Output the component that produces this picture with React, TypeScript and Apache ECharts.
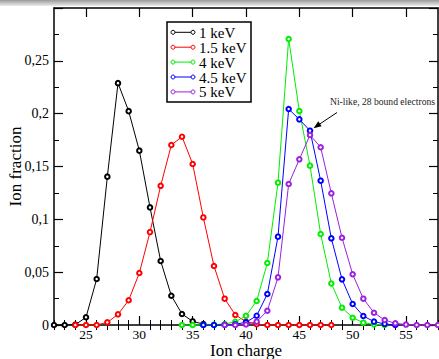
import React, { useEffect, useRef } from "react";
import * as echarts from "echarts";

const seriesNames = ["1 keV", "1.5 keV", "4 keV", "4.5 keV", "5 keV"];
const seriesColors = ["#000000", "#ff0000", "#00ee00", "#0000ff", "#9b20e0"];

const charges1 = [22, 23, 24, 25, 26, 27, 28, 29, 30, 31, 32, 33, 34, 35, 36];
const fraction1 = [0, 0, 0.0003, 0.0073, 0.0435, 0.1404, 0.2289, 0.2024, 0.165, 0.1113, 0.0606, 0.0277, 0.0104, 0.0035, 0.0008];

const charges15 = [24, 25, 26, 27, 28, 29, 30, 31, 32, 33, 34, 35, 36, 37, 38, 39, 40, 41, 42, 43, 44, 45, 46, 47, 48];
const fraction15 = [0, 0, 0, 0.0025, 0.0101, 0.0234, 0.0492, 0.0879, 0.1317, 0.1703, 0.1782, 0.1524, 0.1018, 0.0558, 0.0249, 0.0095, 0.0032, 0.0008, 0, 0, 0, 0, 0, 0, 0];

const charges4 = [34, 35, 36, 37, 38, 39, 40, 41, 42, 43, 44, 45, 46, 47, 48, 49, 50, 51, 52, 53];
const fraction4 = [0, 0, 0, 0.0003, 0.001, 0.003, 0.0087, 0.0227, 0.0587, 0.1347, 0.2707, 0.2025, 0.1508, 0.0861, 0.0393, 0.0164, 0.0069, 0.0022, 0.0006, 0];

const charges45 = [36, 37, 38, 39, 40, 41, 42, 43, 44, 45, 46, 47, 48, 49, 50, 51, 52, 53, 54];
const fraction45 = [0, 0, 0.0002, 0.0007, 0.0025, 0.0088, 0.0293, 0.0836, 0.2044, 0.1946, 0.1839, 0.1366, 0.082, 0.0432, 0.0199, 0.0085, 0.0032, 0.001, 0];

const charges5 = [38, 39, 40, 41, 42, 43, 44, 45, 46, 47, 48, 49, 50, 51, 52, 53, 54, 55, 56, 57, 58];
const fraction5 = [0, 0, 0.0005, 0.0032, 0.0135, 0.0451, 0.1334, 0.1568, 0.1798, 0.1682, 0.1246, 0.0826, 0.048, 0.0249, 0.0116, 0.0047, 0.0016, 0.0004, 0, 0, 0];

const allCharges = [charges1, charges15, charges4, charges45, charges5];
const allFractions = [fraction1, fraction15, fraction4, fraction45, fraction5];

const xMajorTicks = [25, 30, 35, 40, 45, 50, 55];
const xMinorTicks = [22, 23, 24, 26, 27, 28, 29, 31, 32, 33, 34, 36, 37, 38, 39, 41, 42, 43, 44, 46, 47, 48, 49, 51, 52, 53, 54, 56, 57, 58];

const annotationText = "Ni-like, 28 bound electrons";

const FONT = "Liberation Serif";

export default function App() {
  const ref = useRef<HTMLDivElement>(null);

  useEffect(() => {
    if (!ref.current) return;
    const chart = echarts.init(ref.current, null, { renderer: "svg" });

    const xBase = {
      type: "value" as const,
      min: 22,
      max: 58,
      splitLine: { show: false },
    };

    const yFmt = (v: number) => {
      if (v > 0.29) return "";
      return Number(v.toFixed(3)).toString().replace(".", ",");
    };

    const legendGraphics: any[] = [
      {
        type: "rect",
        shape: { x: 167, y: 22, width: 84, height: 80 },
        style: { fill: "#fff", stroke: "#000", lineWidth: 1.5 },
        z: 100,
      },
    ];
    seriesNames.forEach((name, i) => {
      const yy = 32.3 + i * 14.9;
      legendGraphics.push(
        {
          type: "line",
          shape: { x1: 173, y1: yy, x2: 193, y2: yy },
          style: { stroke: seriesColors[i], lineWidth: 1 },
          z: 101,
        },
        {
          type: "circle",
          shape: { cx: 173, cy: yy, r: 2 },
          style: { fill: "#fff", stroke: seriesColors[i], lineWidth: 1 },
          z: 102,
        },
        {
          type: "circle",
          shape: { cx: 193, cy: yy, r: 2 },
          style: { fill: "#fff", stroke: seriesColors[i], lineWidth: 1 },
          z: 102,
        },
        {
          type: "text",
          x: 199,
          y: yy + 0.5,
          style: {
            text: name,
            fill: "#000",
            font: `15px "${FONT}"`,
            textVerticalAlign: "middle",
            verticalAlign: "middle",
          },
          z: 102,
        }
      );
    });

    const option: any = {
      animation: false,
      backgroundColor: "#fff",
      grid: { left: 54, right: 1, top: 8, bottom: 34, containLabel: false, outerBoundsMode: "none" },
      xAxis: [
        {
          ...xBase,
          position: "bottom",
          name: "Ion charge",
          nameLocation: "middle",
          nameGap: 17,
          nameMoveOverlap: false,
          nameTextStyle: { fontFamily: FONT, fontSize: 17, lineHeight: 16, color: "#000" },
          axisLine: { show: true, onZero: false, lineStyle: { color: "#000", width: 1.5 } },
          axisTick: { show: true, inside: true, length: 9, customValues: xMajorTicks, lineStyle: { color: "#000", width: 1.2 } },
          axisLabel: { show: true, customValues: xMajorTicks, margin: 3, fontFamily: FONT, fontSize: 13.5, lineHeight: 12, color: "#000" },
        },
        {
          ...xBase,
          position: "bottom",
          axisLine: { show: false },
          axisTick: { show: true, inside: true, length: 5, customValues: xMinorTicks, lineStyle: { color: "#000", width: 1 } },
          axisLabel: { show: false },
        },
        {
          ...xBase,
          position: "top",
          axisLine: { show: true, onZero: false, lineStyle: { color: "#000", width: 1.5 } },
          axisTick: { show: true, inside: true, length: 9, customValues: xMajorTicks, lineStyle: { color: "#000", width: 1.2 } },
          axisLabel: { show: false },
        },
        {
          ...xBase,
          position: "top",
          axisLine: { show: false },
          axisTick: { show: true, inside: true, length: 5, customValues: xMinorTicks, lineStyle: { color: "#000", width: 1 } },
          axisLabel: { show: false },
        },
      ],
      yAxis: [
        {
          type: "value",
          position: "left",
          min: 0,
          max: 0.3,
          interval: 0.05,
          name: "Ion fraction",
          nameLocation: "middle",
          nameGap: 30,
          nameMoveOverlap: false,
          nameTextStyle: { fontFamily: FONT, fontSize: 17, color: "#000" },
          splitLine: { show: false },
          axisLine: { show: true, onZero: false, lineStyle: { color: "#000", width: 1.5 } },
          axisTick: { show: true, inside: true, length: 9, lineStyle: { color: "#000", width: 1.2 } },
          minorTick: { show: true, splitNumber: 2, length: 5, lineStyle: { color: "#000", width: 1 } },
          axisLabel: { margin: 5, fontFamily: FONT, fontSize: 14, color: "#000", formatter: yFmt },
        },
        {
          type: "value",
          position: "right",
          min: 0,
          max: 0.3,
          interval: 0.05,
          splitLine: { show: false },
          axisLine: { show: true, onZero: false, lineStyle: { color: "#000", width: 1.5 } },
          axisTick: { show: true, inside: true, length: 9, lineStyle: { color: "#000", width: 1.2 } },
          minorTick: { show: true, splitNumber: 2, length: 5, lineStyle: { color: "#000", width: 1 } },
          axisLabel: { show: false },
        },
      ],
      series: seriesNames.map((name, i) => ({
        name,
        type: "line",
        xAxisIndex: 0,
        yAxisIndex: 0,
        data: allCharges[i].map((c, j) => [c, allFractions[i][j]]),
        symbol: "emptyCircle",
        symbolSize: 4.5,
        showAllSymbol: true,
        clip: false,
        lineStyle: { color: seriesColors[i], width: 1 },
        itemStyle: { color: seriesColors[i], borderColor: seriesColors[i], borderWidth: 1 },
        emphasis: { disabled: true },
      })),
      graphic: [
        {
          type: "rect",
          shape: { x: 0, y: 0, width: 439, height: 6 },
          style: {
            fill: new echarts.graphic.LinearGradient(0, 0, 0, 1, [
              { offset: 0, color: "#9a9a9a" },
              { offset: 1, color: "#ececec" },
            ]),
          },
          z: 200,
        },
        ...legendGraphics,
        {
          type: "text",
          x: 330,
          y: 101.5,
          style: {
            text: annotationText,
            fill: "#222",
            font: `9.6px "${FONT}"`,
            textVerticalAlign: "middle",
            verticalAlign: "middle",
          },
          z: 100,
        },
        {
          type: "line",
          shape: { x1: 337, y1: 112.5, x2: 316, y2: 126.5 },
          style: { stroke: "#000", lineWidth: 1 },
          z: 100,
        },
        {
          type: "polygon",
          shape: { points: [[313.5, 128.2], [321.6, 126.2], [318.3, 121.2]] },
          style: { fill: "#000" },
          z: 100,
        },
      ],
    };

    chart.setOption(option);
    return () => chart.dispose();
  }, []);

  return (
    <div
      ref={ref}
      style={{ position: "fixed", left: 0, top: 0, width: 439, height: 359, background: "#fff" }}
    />
  );
}
